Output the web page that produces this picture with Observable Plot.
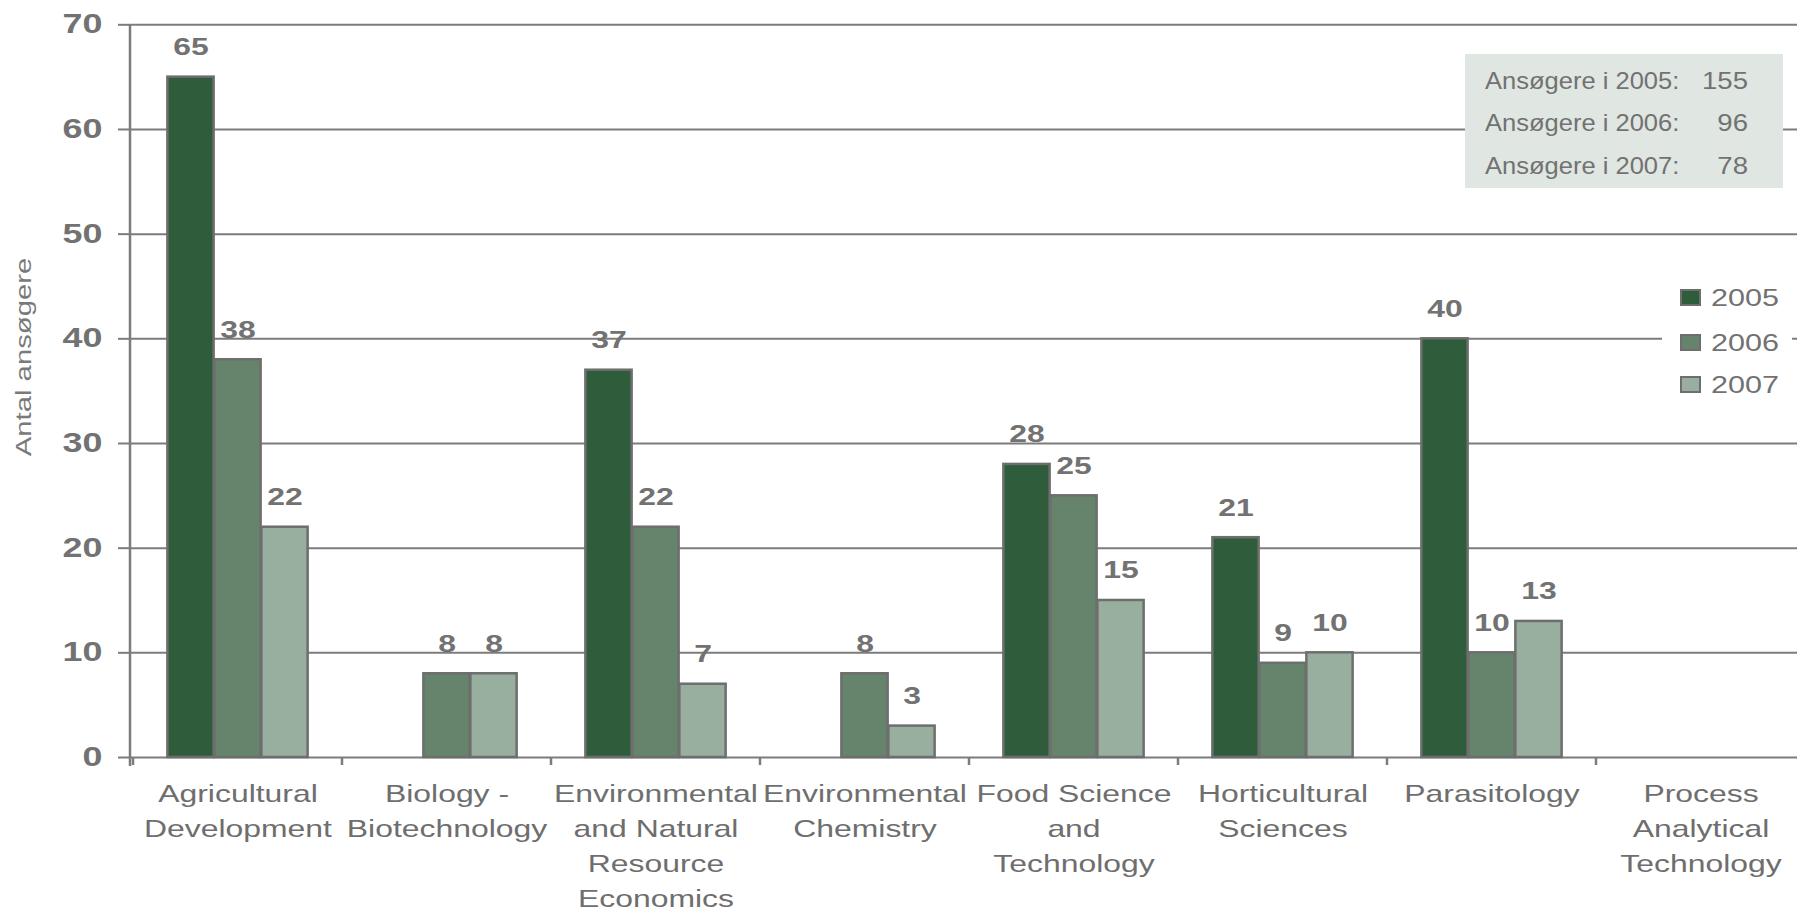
<!DOCTYPE html>
<html>
<head>
<meta charset="utf-8">
<script src="https://cdn.jsdelivr.net/npm/d3@7"></script>
<script src="https://cdn.jsdelivr.net/npm/@observablehq/plot@0.6"></script>
<style>
  html, body { margin: 0; padding: 0; background: #fff; }
  #chart svg { display: block; }
</style>
</head>
<body>
<div id="chart"></div>
<script>
// ---------- data ----------
const categories = [
  "Agricultural Development",
  "Biology - Biotechnology",
  "Environmental and Natural Resource Economics",
  "Environmental Chemistry",
  "Food Science and Technology",
  "Horticultural Sciences",
  "Parasitology",
  "Process Analytical Technology"
];
const tickLabels = [
  "Agricultural\nDevelopment",
  "Biology -\nBiotechnology",
  "Environmental\nand Natural\nResource\nEconomics",
  "Environmental\nChemistry",
  "Food Science\nand\nTechnology",
  "Horticultural\nSciences",
  "Parasitology",
  "Process\nAnalytical\nTechnology"
];
const years = ["2005", "2006", "2007"];
const values2005 = [65, null, 37, null, 28, 21, 40, null];
const values2006 = [38, 8, 22, 8, 25, 9, 10, null];
const values2007 = [22, 8, 7, 3, 15, 10, 13, null];
const totals = [155, 96, 78];
const yTicks = [0, 10, 20, 30, 40, 50, 60, 70];
const yTitle = "Antal ansøgere";
const totalLabel = "Ansøgere i ";

// ---------- styling ----------
const colors = ["#2f5d3b", "#65846b", "#98af9f"];
const gray = "#727272";
const lineGray = "#7c7c7c";
const font = "'Liberation Sans', Arial, Helvetica, sans-serif";
const W = 1797, H = 910;
const xRange = [130, 1808];
const step = (xRange[1] - xRange[0]) / categories.length;
const slot = 47;
const side = (step - 3 * slot) / 2;
const K = 1.33; // horizontal glyph stretch of the original rendering

const series = [values2005, values2006, values2007];
const rows = years.map((yr, i) =>
  categories.map((c, j) => ({category: c, year: yr, value: series[i][j]}))
            .filter(d => d.value != null)
);

const barMarks = rows.map((r, i) => Plot.barY(r, {
  x: "category", y: "value", fill: "year",
  stroke: "#6e6e6e", strokeWidth: 2.5,
  insetLeft: side + i * slot,
  insetRight: step - side - (i + 1) * slot
}));
const labelMarks = rows.map((r, i) => Plot.text(r, {
  x: "category", y: "value", text: d => String(d.value),
  dx: (i - 1) * slot, dy: -22, lineAnchor: "bottom",
  fontSize: 24, fontWeight: "bold", fill: gray
}));

const plot = Plot.plot({
  width: W, height: H,
  marginLeft: 130, marginRight: 0, marginTop: 24, marginBottom: 153,
  style: {fontFamily: font, fontSize: "24px", background: "#fff", color: gray, overflow: "visible"},
  x: {domain: categories, range: xRange, padding: 0},
  y: {domain: [0, 70], range: [757, 24.3]},
  color: {domain: years, range: colors},
  marks: [
    Plot.ruleY(yTicks, {stroke: lineGray, strokeWidth: 2}),
    Plot.axisY({ticks: yTicks, tickSize: 12, tickPadding: 16, fontSize: 27, fontWeight: "bold",
                color: gray, stroke: lineGray, strokeWidth: 2, label: null, tickFormat: d => String(d)}),
    ...barMarks,
    ...labelMarks,
    Plot.axisX({tickSize: 0, tickPadding: 20, fontSize: 24, lineHeight: 1.46,
                tickFormat: d => tickLabels[categories.indexOf(d)], color: "#6e6e6e", label: null})
  ]
});

// stretch Plot's text horizontally, like the original's wide glyphs
function stretch(el, k) {
  const t = el.getAttribute("transform") || "";
  let tx = 0, ty = 0;
  const xa = el.getAttribute("x"), ya = el.getAttribute("y");
  if (xa != null && /^-?[\d.]+$/.test(xa)) { tx = +xa; el.removeAttribute("x"); }
  if (ya != null && /^-?[\d.]+$/.test(ya)) { ty = +ya; el.removeAttribute("y"); }
  el.setAttribute("transform", `${t} translate(${tx},${ty}) scale(${k},1)`);
}
d3.select(plot).selectAll("text").each(function() { stretch(this, K); });

const svg = d3.select(plot);
const xs = plot.scale("x");
const ys = plot.scale("y");

// y axis line and category boundary ticks
const y0 = ys.apply(0), yTop = ys.apply(70);
svg.append("line").attr("x1", xRange[0]).attr("x2", xRange[0]).attr("y1", yTop).attr("y2", y0 + 9)
  .attr("stroke", lineGray).attr("stroke-width", 2.5);
categories.forEach(c => {
  const x = xs.apply(c);
  svg.append("line").attr("x1", x).attr("x2", x).attr("y1", y0).attr("y2", y0 + 8)
    .attr("stroke", lineGray).attr("stroke-width", 2.5);
});

// y-axis title
svg.append("text").text(yTitle)
  .attr("transform", `translate(31,357) rotate(-90) scale(${K},1)`)
  .attr("text-anchor", "middle").attr("font-size", 22).attr("fill", "#7a7a7a");

// totals box
const box = svg.append("g").attr("text-anchor", "start");
box.append("rect").attr("x", 1465).attr("y", 54).attr("width", 318).attr("height", 134).attr("fill", "#e0e6e2");
years.forEach((yr, i) => {
  const by = 88.5 + i * 42.5;
  box.append("text").text(`${totalLabel}${yr}:`)
    .attr("transform", `translate(1485,${by}) scale(1.11,1)`)
    .attr("text-anchor", "start").attr("font-size", 23).attr("fill", gray);
  box.append("text").text(String(totals[i]))
    .attr("transform", `translate(1748,${by}) scale(1.2,1)`)
    .attr("text-anchor", "end").attr("font-size", 23).attr("fill", gray);
});

// legend
const lg = svg.append("g").attr("text-anchor", "start");
lg.append("rect").attr("x", 1662).attr("y", 272).attr("width", 130).attr("height", 135).attr("fill", "#fff");
const legY = [297.5, 342.5, 384.5];
years.forEach((yr, i) => {
  lg.append("rect").attr("x", 1681).attr("y", legY[i] - 7.5).attr("width", 19).attr("height", 15)
    .attr("fill", colors[i]).attr("stroke", "#6e6e6e").attr("stroke-width", 2);
  lg.append("text").text(yr)
    .attr("transform", `translate(1711,${legY[i] + 8.5}) scale(${K},1)`)
    .attr("text-anchor", "start").attr("font-size", 23).attr("fill", gray);
});

document.getElementById("chart").appendChild(plot);
</script>
</body>
</html>
